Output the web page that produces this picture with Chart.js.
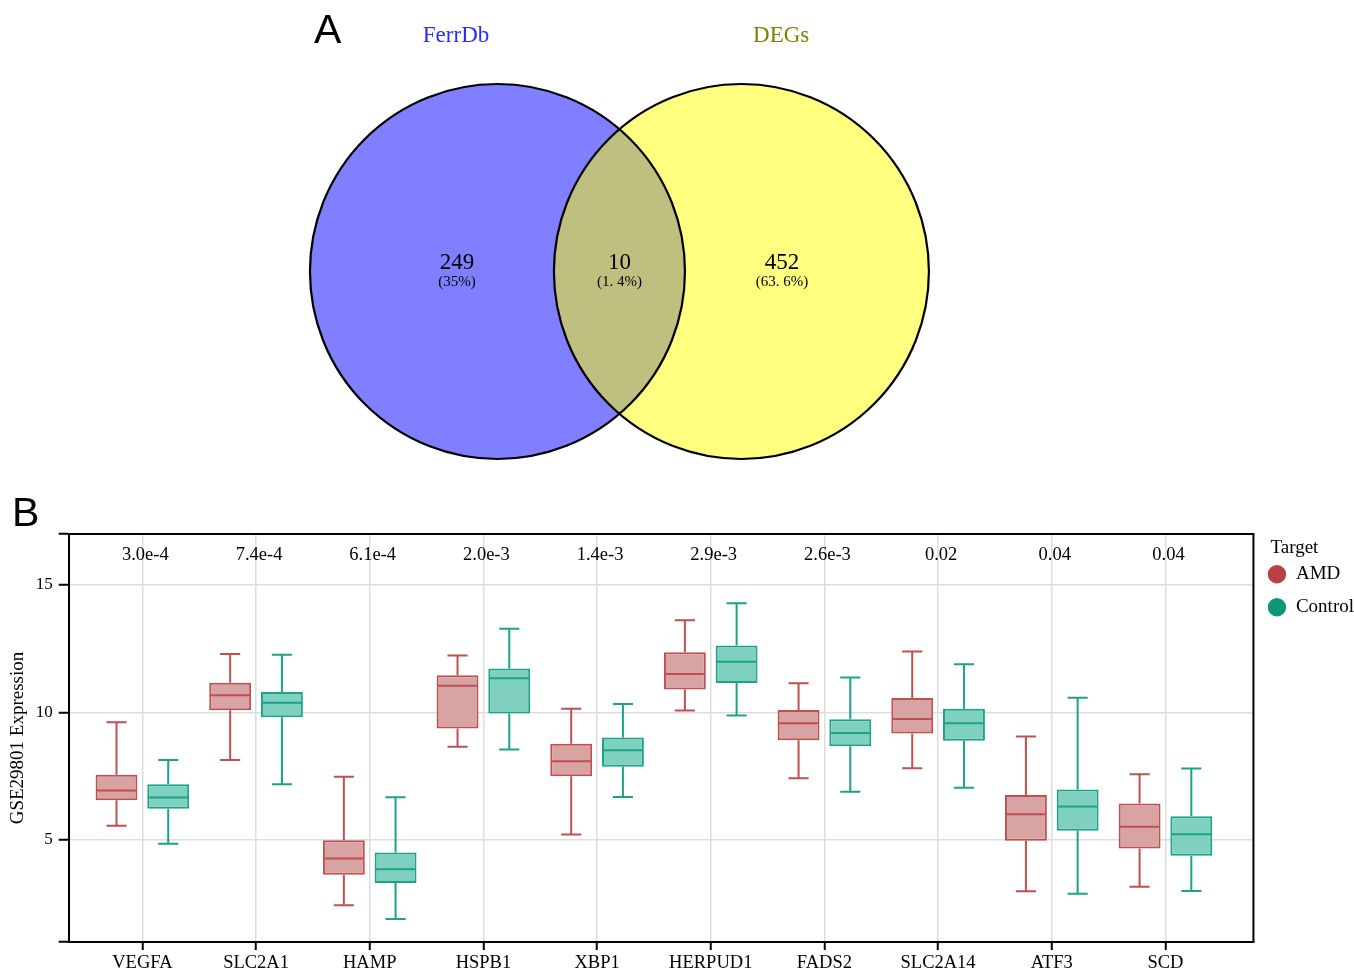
<!DOCTYPE html>
<html>
<head>
<meta charset="utf-8">
<script src="https://cdn.jsdelivr.net/npm/chart.js@4"></script>
<style>
  body { margin: 0; background: #fff; }
  #page { position: relative; width: 1354px; height: 972px; overflow: hidden; background: #fff; }
  canvas { position: absolute; left: 0; }
  .panel { position: absolute; font-family: 'Liberation Sans', Arial, sans-serif; font-size: 41px; line-height: 1; color: #000; }
</style>
</head>
<body>
<div id="page">
  <canvas id="vennChart" width="1354" height="480" style="top:0"></canvas>
  <canvas id="boxChart" width="1354" height="492" style="top:480px"></canvas>
  <div class="panel" style="left:314px; top:9px">A</div>
  <div class="panel" style="left:12px; top:492px">B</div>
</div>
<script>
// ---- panel A data ----
var vennSets = ['FerrDb', 'DEGs'];
var vennSetColors = ['#2b2bff', '#808000'];
var vennCounts = [249, 10, 452];          // FerrDb only, both, DEGs only
var vennPercents = ['(35%)', '(1. 4%)', '(63. 6%)'];

// ---- panel B data ----
var genes = ['VEGFA', 'SLC2A1', 'HAMP', 'HSPB1', 'XBP1', 'HERPUD1', 'FADS2', 'SLC2A14', 'ATF3', 'SCD'];
var pValues = ['3.0e-4', '7.4e-4', '6.1e-4', '2.0e-3', '1.4e-3', '2.9e-3', '2.6e-3', '0.02', '0.04', '0.04'];
var groups = ['AMD', 'Control'];
var legendTitle = 'Target';

var amdMin    = [5.56, 8.14, 2.44, 8.66, 5.22, 10.08, 7.42, 7.81, 2.99, 3.17];
var amdQ1     = [6.56, 10.09, 3.64, 9.37, 7.50, 10.90, 8.91, 9.18, 4.97, 4.67];
var amdMedian = [6.94, 10.68, 4.27, 11.05, 8.09, 11.51, 9.58, 9.75, 6.01, 5.52];
var amdQ3     = [7.56, 11.17, 4.99, 11.46, 8.77, 12.36, 10.10, 10.57, 6.76, 6.43];
var amdMax    = [9.62, 12.29, 7.48, 12.24, 10.15, 13.62, 11.15, 12.39, 9.06, 7.58];

var ctlMin    = [4.85, 7.19, 1.90, 8.55, 6.69, 9.88, 6.89, 7.05, 2.89, 3.00];
var ctlQ1     = [6.23, 9.81, 3.31, 9.96, 7.87, 11.16, 8.68, 8.89, 5.36, 4.38];
var ctlMedian = [6.67, 10.38, 3.85, 11.34, 8.52, 11.99, 9.20, 9.58, 6.31, 5.23];
var ctlQ3     = [7.19, 10.80, 4.51, 11.73, 9.02, 12.63, 9.74, 10.15, 6.98, 5.93];
var ctlMax    = [8.14, 12.26, 6.68, 13.28, 10.33, 14.28, 11.37, 11.89, 10.58, 7.80];

var yTicks = [1, 5, 10, 15, 17];

Chart.defaults.font.family = "'Liberation Serif', 'Times New Roman', serif";
Chart.defaults.color = '#000';

// ---------------- Venn (panel A) ----------------
// two equal circles, radius = 1 data unit, centres 1.3 apart
var centreGap = 1.301;
var vennCentres = [{x: 0, y: 0}, {x: centreGap, y: 0}];

function unitRadius(ctx) {
    var s = ctx.chart.scales.x;
    return Math.abs(s.getPixelForValue(1) - s.getPixelForValue(0));
}

var vennText = {
    id: 'vennText',
    afterDatasetsDraw: function (chart) {
        var c = chart.ctx, sx = chart.scales.x, sy = chart.scales.y;
        c.save();
        c.textAlign = 'center';
        c.textBaseline = 'middle';
        // set names
        c.font = "23px 'Liberation Serif'";
        c.fillStyle = vennSetColors[0];
        c.fillText(vennSets[0], sx.getPixelForValue(-0.221), sy.getPixelForValue(1.256));
        c.fillStyle = vennSetColors[1];
        c.fillText(vennSets[1], sx.getPixelForValue(centreGap + 0.212), sy.getPixelForValue(1.256));
        // region counts
        var regionX = [-0.216, centreGap / 2, centreGap + 0.216];
        c.fillStyle = '#000';
        for (var i = 0; i < 3; i++) {
            c.font = "23px 'Liberation Serif'";
            c.fillText(String(vennCounts[i]), sx.getPixelForValue(regionX[i]), sy.getPixelForValue(0.045));
            c.font = "15px 'Liberation Serif'";
            c.fillText(vennPercents[i], sx.getPixelForValue(regionX[i]), sy.getPixelForValue(-0.057));
        }
        c.restore();
    }
};

function circleSet(i, fill, line, width) {
    return {label: vennSets[i], data: [vennCentres[i]], showLine: false,
        pointRadius: unitRadius, pointBackgroundColor: fill, pointBorderColor: line, pointBorderWidth: width};
}

// chart.js paints the last dataset first, so outlines come first here
new Chart(document.getElementById('vennChart'), {
    type: 'scatter',
    data: {
        datasets: [
            circleSet(1, 'rgba(0,0,0,0)', '#000', 2.2),
            circleSet(0, 'rgba(0,0,0,0)', '#000', 2.2),
            circleSet(1, 'rgba(255,255,0,0.5)', 'rgba(0,0,0,0)', 0),
            circleSet(0, 'rgba(0,0,255,0.5)', 'rgba(0,0,0,0)', 0)
        ]
    },
    options: {
        responsive: false,
        animation: false,
        events: [],
        layout: {padding: 0},
        plugins: {legend: {display: false}, tooltip: {enabled: false}},
        scales: {
            x: {type: 'linear', display: false, min: -2.653, max: 4.568},
            y: {type: 'linear', display: false, min: -1.112, max: 1.448}
        }
    },
    plugins: [vennText]
});

// ---------------- Boxplot (panel B) ----------------
var boxFill = ['#d8a3a3', '#80d0c0'];
var boxLine = ['#c0504f', '#1aa387'];
var legendColors = ['#b84242', '#0f9678'];

var stats = [
    {min: amdMin, median: amdMedian, max: amdMax},
    {min: ctlMin, median: ctlMedian, max: ctlMax}
];

function boxData(q1, q3) {
    return genes.map(function (g, i) { return {x: i, y: [q1[i], q3[i]]}; });
}

var boxExtras = {
    id: 'boxExtras',
    afterDatasetsDraw: function (chart) {
        var c = chart.ctx, sy = chart.scales.y, sx = chart.scales.x, area = chart.chartArea;
        c.save();
        c.lineWidth = 2;
        for (var d = 0; d < 2; d++) {
            var meta = chart.getDatasetMeta(d);
            c.strokeStyle = boxLine[d];
            meta.data.forEach(function (bar, i) {
                var half = bar.width / 2;
                var cap = bar.width * 0.24;
                var yMin = sy.getPixelForValue(stats[d].min[i]);
                var yMax = sy.getPixelForValue(stats[d].max[i]);
                var yMed = sy.getPixelForValue(stats[d].median[i]);
                var yTop = Math.min(bar.y, bar.base);
                var yBot = Math.max(bar.y, bar.base);
                c.beginPath();
                // whiskers
                c.moveTo(bar.x, yTop); c.lineTo(bar.x, yMax);
                c.moveTo(bar.x - cap, yMax); c.lineTo(bar.x + cap, yMax);
                c.moveTo(bar.x, yBot); c.lineTo(bar.x, yMin);
                c.moveTo(bar.x - cap, yMin); c.lineTo(bar.x + cap, yMin);
                // median
                c.moveTo(bar.x - half + 1, yMed); c.lineTo(bar.x + half - 1, yMed);
                c.stroke();
            });
        }
        // p values along the top
        c.fillStyle = '#000';
        c.font = "18.5px 'Liberation Serif'";
        c.textAlign = 'center';
        c.textBaseline = 'middle';
        pValues.forEach(function (p, i) {
            c.fillText(p, sx.getPixelForValue(i) + 3, sy.getPixelForValue(16.17));
        });
        // top and right frame
        c.strokeStyle = '#000';
        c.lineWidth = 2;
        c.beginPath();
        c.moveTo(area.left, area.top); c.lineTo(area.right, area.top); c.lineTo(area.right, area.bottom);
        c.stroke();
        c.restore();
    },
    afterDraw: function (chart) {
        // legend title, indented like the original
        var lg = chart.legend, c = chart.ctx;
        c.save();
        c.fillStyle = '#000';
        c.font = "19px 'Liberation Serif'";
        c.textAlign = 'left';
        c.textBaseline = 'middle';
        c.fillText(legendTitle, lg.left + 17, lg.top + 3 + 19 * 1.2 / 2);
        c.restore();
    }
};

new Chart(document.getElementById('boxChart'), {
    type: 'bar',
    data: {
        datasets: [
            {label: groups[0], data: boxData(amdQ1, amdQ3), backgroundColor: boxFill[0], borderColor: boxLine[0]},
            {label: groups[1], data: boxData(ctlQ1, ctlQ3), backgroundColor: boxFill[1], borderColor: boxLine[1]}
        ]
    },
    options: {
        responsive: false,
        animation: false,
        events: [],
        layout: {padding: {top: 54, right: -10, left: 0, bottom: 0}},
        datasets: {
            bar: {borderWidth: 2, borderSkipped: false, categoryPercentage: 0.91, barPercentage: 0.81}
        },
        plugins: {
            tooltip: {enabled: false},
            legend: {
                position: 'right',
                align: 'start',
                // title space is reserved here, the text itself is painted in afterDraw
                title: {display: true, text: legendTitle, color: 'rgba(0,0,0,0)', position: 'start', font: {size: 19}, padding: {top: 3, bottom: -9}},
                labels: {
                    usePointStyle: true,
                    boxWidth: 19,
                    boxHeight: 13,
                    padding: 14,
                    color: '#000',
                    font: {size: 19},
                    generateLabels: function (chart) {
                        return chart.data.datasets.map(function (ds, i) {
                            return {text: ds.label, fillStyle: legendColors[i], strokeStyle: legendColors[i],
                                lineWidth: 0, pointStyle: 'circle', datasetIndex: i, hidden: false, fontColor: '#000'};
                        });
                    }
                }
            }
        },
        scales: {
            x: {
                type: 'linear',
                min: -0.648,
                max: 9.774,
                offset: false,
                afterBuildTicks: function (s) { s.ticks = genes.map(function (g, i) { return {value: i}; }); },
                afterFit: function (s) { s.height = 30; },
                ticks: {callback: function (v) { return genes[v]; }, font: {size: 18.5}, padding: 2, maxRotation: 0, autoSkip: false},
                grid: {offset: false, color: '#dddddd', lineWidth: 1.5, tickColor: '#000', tickLength: 8, tickWidth: 2},
                border: {color: '#000', width: 2}
            },
            y: {
                type: 'linear',
                min: 1,
                max: 17,
                afterBuildTicks: function (s) { s.ticks = yTicks.map(function (v) { return {value: v}; }); },
                afterFit: function (s) { s.width = 68.7; },
                ticks: {
                    callback: function (v) { return (v === yTicks[0] || v === yTicks[yTicks.length - 1]) ? '' : v; },
                    font: {size: 17}, padding: 6
                },
                grid: {
                    color: function (ctx) {
                        var v = ctx.tick && ctx.tick.value;
                        return (v === yTicks[0] || v === yTicks[yTicks.length - 1]) ? 'rgba(0,0,0,0)' : '#dddddd';
                    },
                    lineWidth: 1.5, tickColor: '#000', tickLength: 10, tickWidth: 2
                },
                border: {color: '#000', width: 2},
                title: {display: true, text: 'GSE29801 Expression', font: {size: 19}, padding: {top: 7, bottom: 0}}
            }
        }
    },
    plugins: [boxExtras]
});
</script>
</body>
</html>
